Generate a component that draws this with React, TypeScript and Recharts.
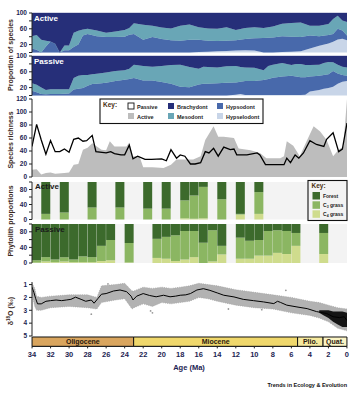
import React from "react";
import {
  AreaChart,
  Area,
  ComposedChart,
  Line,
  Scatter,
  BarChart,
  Bar,
  XAxis,
  YAxis,
  ReferenceArea,
  CartesianGrid,
} from "recharts";

// ---------------- Proportion of species: Active ----------------
const activeAges = [34, 33.5, 33, 32.5, 32, 31.5, 31, 30.5, 30, 29.5, 29, 28.5, 28, 27, 26, 25, 24, 23.5, 23, 22, 21, 20, 19, 18, 17, 16, 15, 14, 13, 12, 11, 10, 9, 8, 7, 6, 5, 4, 3, 2, 1.5, 1, 0.5, 0];
const activeHypselodont = [0, 0, 0, 0, 0, 0, 0, 0, 0, 0, 0, 0, 0, 0, 0, 0, 0, 0, 0, 0, 0, 0, 0, 0, 0, 1, 2, 3, 4, 5, 6, 5, 0, 0, 1, 2, 3, 10, 17, 23, 27, 33, 35, 31];
const activeHypsodont = [10, 7, 0, 15, 28, 22, 0, 6, 6, 14, 20, 43, 47, 41, 39, 39, 40, 45, 47, 32, 39, 34, 31, 30, 32, 31, 28, 26, 26, 26, 28, 31, 37, 38, 40, 38, 36, 33, 24, 21, 20, 27, 21, 12];
const activeMesodont = [31, 37, 32, 15, 0, 0, 0, 12, 12, 36, 35, 15, 13, 15, 11, 14, 17, 17, 27, 38, 29, 29, 30, 38, 39, 32, 31, 31, 34, 26, 28, 28, 25, 28, 32, 35, 37, 25, 27, 28, 38, 33, 25, 34];
const activeBrachydont = [59, 56, 68, 70, 72, 78, 100, 82, 82, 50, 45, 42, 40, 44, 50, 47, 43, 38, 26, 30, 32, 37, 39, 32, 29, 36, 39, 40, 36, 43, 38, 36, 38, 34, 27, 25, 24, 32, 32, 28, 15, 7, 19, 23];

// ---------------- Proportion of species: Passive ----------------
const passiveAges = [34, 33.5, 33, 32.5, 32, 31, 30, 29.5, 29, 28.5, 28, 27.5, 27, 26, 25, 24, 23.5, 23, 22, 21, 20, 19, 18, 17, 16, 15.5, 15, 14, 13, 12, 11.5, 11, 10, 9, 8.5, 8, 7, 6, 5.5, 5, 4.5, 4, 3, 2.5, 2, 1.5, 1, 0.5, 0];
const passiveHypselodont = [0, 0, 0, 0, 0, 0, 0, 0, 0, 0, 0, 0, 0, 0, 0, 0, 0, 0, 0, 0, 0, 0, 0, 0, 0, 0, 0, 0, 0, 2, 4, 1, 1, 1, 1, 1, 1, 1, 1, 1, 2, 10, 14, 17, 19, 22, 30, 35, 37];
const passiveHypsodont = [12, 8, 4, 3, 4, 4, 5, 15, 17, 19, 25, 29, 30, 32, 37, 40, 42, 44, 38, 38, 34, 30, 22, 21, 28, 30, 30, 31, 32, 31, 31, 36, 36, 38, 41, 44, 47, 49, 47, 45, 44, 38, 36, 35, 35, 40, 26, 17, 13];
const passiveMesodont = [19, 19, 16, 11, 12, 12, 11, 29, 33, 33, 27, 25, 25, 26, 25, 24, 26, 34, 37, 35, 41, 47, 56, 51, 40, 43, 42, 40, 42, 42, 37, 34, 33, 25, 33, 33, 34, 27, 32, 34, 31, 29, 28, 30, 31, 22, 22, 21, 21];
const passiveBrachydont = [69, 73, 80, 86, 84, 84, 84, 56, 50, 48, 48, 46, 45, 42, 38, 36, 32, 22, 25, 27, 25, 23, 22, 28, 32, 27, 28, 29, 26, 25, 28, 29, 30, 36, 25, 22, 18, 23, 20, 20, 23, 23, 22, 18, 15, 16, 22, 27, 29];

// ---------------- Species richness ----------------
const passiveRichAges = [34, 33.5, 33, 32.5, 32, 31.5, 31, 30.5, 30, 29.5, 29, 28.5, 28.1, 27.5, 27.1, 26, 25.5, 25.1, 24.4, 24, 23.5, 23.1, 22.6, 21.8, 21.1, 20, 19.5, 19, 18.4, 18, 17.5, 16.9, 16.4, 15.8, 15.3, 14.9, 14.4, 13.9, 13.3, 12.6, 12.2, 11.9, 10.8, 9.7, 9.4, 8.8, 8.3, 7.2, 6.8, 6.5, 6.1, 5.6, 5.2, 4.7, 4, 3.3, 2.5, 2.2, 1.5, 0.9, 0.5, 0];
const passiveRichness = [47, 81, 57, 35, 56, 39, 39, 43, 38, 58, 60, 55, 56, 64, 39, 37, 39, 36, 34, 34, 49, 28, 32, 27, 27, 28, 25, 42, 29, 34, 32, 20, 20, 22, 39, 37, 44, 32, 46, 42, 43, 34, 34, 37, 34, 19, 19, 19, 19, 29, 22, 34, 29, 37, 56, 50, 47, 58, 68, 39, 43, 83];
const activeRichAges = [34, 33.5, 33, 32.5, 32, 31.5, 30.5, 30, 29.5, 29, 28.5, 28, 27.5, 27, 26.5, 26, 25.6, 25.1, 24.5, 23.8, 23.5, 23.1, 22.4, 22, 21, 19.8, 19, 18.4, 18, 17.3, 16.6, 15.8, 15.3, 14.4, 13.9, 13.3, 12.2, 11.7, 10.4, 9.4, 8.7, 7.2, 6.8, 6.5, 5.8, 5.1, 4.3, 3.6, 2.9, 2.2, 1.5, 0.9, 0.4, 0];
const activeRichness = [11, 12, 4, 6, 7, 5, 6, 7, 19, 20, 42, 45, 52, 47, 42, 41, 55, 47, 47, 47, 53, 32, 32, 15, 15, 14, 19, 27, 27, 27, 27, 32, 57, 78, 62, 62, 60, 44, 41, 37, 29, 29, 32, 55, 48, 32, 57, 78, 70, 57, 32, 42, 47, 120];

// ---------------- Phytolith proportions (1 Ma bins) ----------------
const phytoBins = [33.5, 32.5, 31.5, 30.5, 29.5, 28.5, 27.5, 26.5, 25.5, 24.5, 23.5, 22.5, 21.5, 20.5, 19.5, 18.5, 17.5, 16.5, 15.5, 14.5, 13.5, 12.5, 11.5, 10.5, 9.5, 8.5, 7.5, 6.5, 5.5, 4.5, 3.5, 2.5, 1.5, 0.5];
const activeForest = [null, 85, null, 81, null, null, 68, null, null, 68, null, null, 71, null, 71, null, 49, 36, 13, null, 46, null, 85, null, 27, null, null, null, null, null, null, null, null, null];
const activeC3 = [null, 15, null, 19, null, null, 32, null, null, 32, null, null, 29, null, 29, null, 48, 62, 84, null, 54, null, 2, null, 58, null, null, null, null, null, null, null, null, null];
const activeC4 = [null, 0, null, 0, null, null, 0, null, null, 0, null, null, 0, null, 0, null, 3, 2, 3, null, 0, null, 13, null, 15, null, null, null, null, null, null, null, null, null];
const passiveForest = [93, 85, 91, 85, 91, 83, 85, 56, 41, null, 49, null, null, 38, 33, 29, 18, 18, 48, 16, 56, null, 35, 43, 41, 18, 16, 18, 23, null, null, 23, null, null];
const passiveC3 = [6, 11, 7, 11, 7, 15, 13, 39, 52, null, 50, null, null, 49, 56, 66, 73, 67, 52, 80, 22, null, 54, 46, 40, 63, 58, 59, 33, null, null, 54, null, null];
const passiveC4 = [1, 4, 2, 4, 2, 2, 2, 5, 7, null, 1, null, null, 13, 11, 5, 9, 15, 0, 4, 22, null, 11, 11, 19, 19, 26, 23, 44, null, null, 23, null, null];

// ---------------- Oxygen isotopes ----------------
const o18Ages = [34, 33.8, 33.6, 33.4, 33, 32.5, 32, 31.4, 30.8, 30.3, 29.8, 29.3, 28.7, 28.2, 27.6, 27.3, 26.9, 26.5, 26, 25.2, 24.5, 23.8, 23.3, 23.1, 22.7, 22, 21.3, 20.6, 19.8, 19.1, 18.5, 18, 17.4, 16.9, 16.2, 15.5, 14.8, 14, 13.3, 12.2, 11.2, 10.1, 9, 7.9, 7.5, 7.2, 6.5, 5.4, 4.3, 3.3, 2.2, 1.5, 0.8, 0.3, 0];
const o18Mean = [1.2, 1.6, 2.1, 2.5, 2.5, 2.3, 2.25, 2.2, 2.25, 2.2, 2.15, 1.98, 2.15, 2.3, 2.2, 2.45, 2.1, 1.75, 1.7, 1.5, 1.42, 1.55, 1.9, 2.2, 1.9, 1.7, 1.85, 1.95, 1.83, 1.95, 1.9, 1.83, 1.8, 1.7, 1.42, 1.32, 1.45, 1.65, 1.83, 1.96, 2.15, 2.25, 2.35, 2.48, 2.3, 2.38, 2.6, 2.74, 2.87, 3.1, 3.25, 3.5, 3.57, 3.5, 3.8];
const o18SpreadAges = [34, 33.7, 33.5, 33, 32, 30, 28, 27, 26.5, 25, 24, 23.2, 23, 22, 21, 20, 19, 18, 17, 16, 15, 14, 12, 10, 8, 6, 4, 3, 2, 1, 0];
const o18SpreadLow = [0.9, 1.3, 1.9, 2.0, 1.9, 1.8, 1.8, 2.0, 1.1, 1.0, 0.9, 1.5, 1.5, 1.2, 1.3, 1.2, 1.3, 1.2, 1.1, 0.9, 1.0, 1.1, 1.4, 1.6, 1.8, 2.0, 2.3, 2.4, 2.6, 2.8, 2.9];
const o18SpreadHigh = [1.8, 2.7, 3.0, 3.0, 2.8, 2.7, 2.8, 2.9, 2.4, 2.2, 2.1, 2.9, 2.8, 2.5, 2.7, 2.4, 2.5, 2.4, 2.3, 2.0, 2.1, 2.3, 2.6, 2.8, 2.9, 3.2, 3.4, 3.6, 3.9, 4.4, 4.6];
const o18GlacialAges = [3, 2.5, 2, 1.5, 1, 0.5, 0];
const o18GlacialLow = [3.0, 3.0, 3.0, 3.1, 3.1, 3.1, 3.2];
const o18GlacialHigh = [3.2, 3.4, 3.6, 3.9, 4.1, 4.3, 4.3];
const o18OutlierAges = [27.6, 21.2, 21.0, 12.8, 9.2, 6.6, 25.8];
const o18OutlierValues = [3.3, 3.05, 3.2, 2.9, 2.95, 1.45, 0.95];

// ---------------- Epochs & ticks ----------------
const epochNames = ["Oligocene", "Miocene", "Plio.", "Quat."];
const epochStart = [34, 23.03, 5.33, 2.58];
const epochEnd = [23.03, 5.33, 2.58, 0];
const ageTicks = [34, 32, 30, 28, 26, 24, 22, 20, 18, 16, 14, 12, 10, 8, 6, 4, 2, 0];
const propTicks = [0, 20, 40, 60, 80, 100];
const propLabels = [20, 60, 100];
const richTicks = [0, 20, 40, 60, 80, 100, 120];
const phytoLabels = [0, 40, 80];
const o18Ticks = [1, 2, 3, 4, 5];

// ---------------- Styles ----------------
const FONT = "'Liberation Sans', Arial, sans-serif";
const TICK_COLOR = "#1d2452";
const TITLE_COLOR = "#3b2a1e";
const COL = {
  brachydont: "#262f79",
  mesodont: "#69a6b6",
  hypsodont: "#4869ab",
  hypselodont: "#c8d5e8",
  active: "#bdbdbd",
  forest: "#3c6a2c",
  c3: "#8bb662",
  c4: "#cfdc8d",
  bg: "#f3f3f3",
};
const epochColors = ["#d9a55e", "#f0d86c", "#f6e99d", "#fbf4c4"];

const PAD = 6;
const W = 360;
const margin = { top: PAD, right: 13, bottom: PAD, left: 0 };
const yTick = { fontSize: 6.5, fontWeight: 700, fill: TICK_COLOR, fontFamily: FONT };
const axisStroke = { stroke: "#222" };

const wrap = (top: number, h: number): React.CSSProperties => ({
  position: "absolute",
  left: 0,
  top: top - PAD,
  width: W,
  height: h + 2 * PAD,
});

function ProportionPanel({ top, h, ages, hypsel, hyps, meso, brachy }: any) {
  const rows = ages.map((age: number, i: number) => ({
    age,
    hypselodont: hypsel[i],
    hypsodont: hyps[i],
    mesodont: meso[i],
    brachydont: brachy[i],
  }));
  const keys = ["hypselodont", "hypsodont", "mesodont", "brachydont"] as const;
  return (
    <div style={wrap(top, h)}>
      <AreaChart width={W} height={h + 2 * PAD} data={rows} margin={margin}>
        <XAxis type="number" dataKey="age" domain={[0, 34]} reversed hide allowDataOverflow />
        <YAxis
          width={32}
          domain={[0, 100]}
          ticks={propTicks}
          interval={0}
          tickFormatter={(v: number) => (propLabels.includes(v) ? String(v) : "")}
          tick={yTick}
          tickSize={3}
          axisLine={axisStroke}
          tickLine={axisStroke}
        />
        {keys.map((k) => (
          <Area
            key={k}
            type="linear"
            dataKey={k}
            stackId="s"
            stroke={COL[k]}
            strokeWidth={0.4}
            fill={COL[k]}
            fillOpacity={1}
            isAnimationActive={false}
          />
        ))}
      </AreaChart>
    </div>
  );
}

function PhytoPanel({ top, h, forest, c3, c4 }: any) {
  const rows = phytoBins.map((bin, i) => ({ bin, forest: forest[i], c3: c3[i], c4: c4[i] }));
  return (
    <div style={wrap(top, h)}>
      <BarChart width={W} height={h + 2 * PAD} data={rows} margin={margin} barCategoryGap={0} barGap={0}>
        <CartesianGrid fill={COL.bg} stroke="none" horizontal={false} vertical={false} />
        <XAxis dataKey="bin" hide />
        <YAxis
          width={32}
          domain={[0, 100]}
          ticks={propTicks}
          interval={0}
          tickFormatter={(v: number) => (phytoLabels.includes(v) ? String(v) : "")}
          tick={yTick}
          tickSize={3}
          axisLine={axisStroke}
          tickLine={axisStroke}
        />
        <Bar dataKey="c4" stackId="p" fill={COL.c4} isAnimationActive={false} />
        <Bar dataKey="c3" stackId="p" fill={COL.c3} isAnimationActive={false} />
        <Bar dataKey="forest" stackId="p" fill={COL.forest} isAnimationActive={false} />
      </BarChart>
    </div>
  );
}

export default function App() {
  const activeRichRows = activeRichAges.map((age, i) => ({ age, richness: activeRichness[i] }));
  const passiveRichRows = passiveRichAges.map((age, i) => ({ age, richness: passiveRichness[i] }));
  const o18MeanRows = o18Ages.map((age, i) => ({ age, d18o: o18Mean[i] }));
  const o18SpreadRows = o18SpreadAges.map((age, i) => ({ age, d18o: [o18SpreadLow[i], o18SpreadHigh[i]] }));
  const o18GlacialRows = o18GlacialAges.map((age, i) => ({ age, d18o: [o18GlacialLow[i], o18GlacialHigh[i]] }));
  const o18OutlierRows = o18OutlierAges.map((age, i) => ({ age, d18o: o18OutlierValues[i] }));
  const epochRows = epochStart.map((age) => ({ age }));

  const RICH_TOP = 99;
  const RICH_H = 78;
  const O18_TOP = 281.7;
  const O18_H = 54;
  const EPOCH_TOP = 337.3;
  const EPOCH_H = 9.4;

  const legendText = { fontSize: 5.5, fontWeight: 700, fill: "#222", fontFamily: FONT } as const;

  return (
    <div style={{ position: "absolute", left: 0, top: 0, width: W, height: 393, background: "#fff", overflow: "hidden" }}>
      <ProportionPanel top={13} h={39.5} ages={activeAges} hypsel={activeHypselodont} hyps={activeHypsodont} meso={activeMesodont} brachy={activeBrachydont} />
      <ProportionPanel top={55.5} h={39.5} ages={passiveAges} hypsel={passiveHypselodont} hyps={passiveHypsodont} meso={passiveMesodont} brachy={passiveBrachydont} />

      <div style={wrap(RICH_TOP, RICH_H)}>
        <ComposedChart width={W} height={RICH_H + 2 * PAD} margin={margin}>
          <XAxis type="number" dataKey="age" domain={[0, 34]} reversed height={0} tick={false} tickLine={false} axisLine={{ stroke: "#bbb" }} allowDataOverflow />
          <YAxis width={32} domain={[0, 120]} ticks={richTicks} interval={0} tick={yTick} tickSize={3} axisLine={axisStroke} tickLine={axisStroke} allowDataOverflow />
          <Area data={activeRichRows} type="linear" dataKey="richness" fill={COL.active} fillOpacity={1} stroke="none" isAnimationActive={false} />
          <Line data={passiveRichRows} type="linear" dataKey="richness" stroke="#000" strokeWidth={1.3} dot={false} isAnimationActive={false} />
        </ComposedChart>
      </div>

      <PhytoPanel top={182} h={37.5} forest={activeForest} c3={activeC3} c4={activeC4} />
      <PhytoPanel top={224} h={39} forest={passiveForest} c3={passiveC3} c4={passiveC4} />

      <div style={wrap(O18_TOP, O18_H)}>
        <ComposedChart width={W} height={O18_H + 2 * PAD} margin={margin}>
          <XAxis type="number" dataKey="age" domain={[0, 34]} reversed hide allowDataOverflow />
          <YAxis width={32} reversed domain={[0.8, 5]} ticks={o18Ticks} interval={0} tick={yTick} tickSize={3} axisLine={axisStroke} tickLine={axisStroke} allowDataOverflow />
          <Area data={o18SpreadRows} type="linear" dataKey="d18o" fill="#b2b2b2" fillOpacity={1} stroke="#a0a0a0" strokeWidth={0.7} strokeDasharray="1 1.2" isAnimationActive={false} />
          <Area data={o18GlacialRows} type="linear" dataKey="d18o" fill="#141414" fillOpacity={1} stroke="none" isAnimationActive={false} />
          <Scatter data={o18OutlierRows} dataKey="d18o" isAnimationActive={false} shape={(p: any) => <circle cx={p.cx} cy={p.cy} r={0.9} fill="#999" />} />
          <Line data={o18MeanRows} type="linear" dataKey="d18o" stroke="#000" strokeWidth={1} dot={false} isAnimationActive={false} />
        </ComposedChart>
      </div>

      <div style={{ position: "absolute", left: 0, top: EPOCH_TOP - 2, width: W, height: EPOCH_H + 2 + 18 }}>
        <ComposedChart width={W} height={EPOCH_H + 2 + 18} data={epochRows} margin={{ top: 2, right: 13, bottom: 2, left: 32 }}>
          <XAxis
            type="number"
            dataKey="age"
            domain={[0, 34]}
            reversed
            ticks={ageTicks}
            interval={0}
            tick={{ fontSize: 7.5, fontWeight: 700, fill: TICK_COLOR, fontFamily: FONT }}
            tickSize={2}
            tickMargin={3}
            height={16}
            axisLine={axisStroke}
            tickLine={axisStroke}
            allowDataOverflow
          />
          <YAxis hide domain={[0, 1]} allowDataOverflow />
          {epochNames.map((name, i) => (
            <ReferenceArea
              key={name}
              x1={epochStart[i]}
              x2={epochEnd[i]}
              y1={0}
              y2={1}
              fill={epochColors[i]}
              fillOpacity={1}
              stroke="#111"
              strokeWidth={1}
              ifOverflow="visible"
              label={{ value: name, position: "center", fontSize: 7, fontWeight: 700, fill: "#2a1a10", fontFamily: FONT }}
            />
          ))}
        </ComposedChart>
      </div>

      <svg width={W} height={393} style={{ position: "absolute", left: 0, top: 0, pointerEvents: "none" }} fontFamily={FONT}>
        {/* axis titles */}
        <text transform="translate(12.5,55) rotate(-90)" textAnchor="middle" fontSize={7} fontWeight={700} fill={TITLE_COLOR}>Proportion of species</text>
        <text transform="translate(12.5,140) rotate(-90)" textAnchor="middle" fontSize={7} fontWeight={700} fill={TITLE_COLOR}>Species richness</text>
        <text transform="translate(12.5,221) rotate(-90)" textAnchor="middle" fontSize={7} fontWeight={700} fill={TITLE_COLOR}>Phytolith proportions</text>
        <text transform="translate(12.5,311) rotate(-90)" textAnchor="middle" fontSize={7} fontWeight={700} fill={TITLE_COLOR}>
          δ<tspan dy={-2.5} fontSize={4.5}>18</tspan>
          <tspan dy={2.5}>O (‰)</tspan>
        </text>

        {/* panel headers */}
        <text x={34} y={21} fontSize={8} fontWeight={700} fill="#fff">Active</text>
        <text x={34} y={63.5} fontSize={8} fontWeight={700} fill="#fff">Passive</text>
        <text x={35} y={189} fontSize={8} fontWeight={700} fill="#1a1a1a">Active</text>
        <text x={35} y={232} fontSize={8} fontWeight={700} fill="#1a1a1a">Passive</text>

        {/* richness / dentition key */}
        <rect x={100} y={99} width={163} height={24.5} fill="#fff" stroke="#111" strokeWidth={1.1} />
        <text x={103} y={107} fontSize={6.5} fontWeight={700} fill="#4a2f10">Key:</text>
        <rect x={128} y={103} width={6} height={6} fill="#fff" stroke="#111" strokeWidth={0.9} />
        <text x={137} y={108.5} {...legendText}>Passive</text>
        <rect x={128} y={113} width={6} height={6} fill={COL.active} />
        <text x={137} y={118.5} {...legendText}>Active</text>
        <rect x={168} y={103} width={6} height={6} fill={COL.brachydont} />
        <text x={177} y={108.5} {...legendText}>Brachydont</text>
        <rect x={168} y={113} width={6} height={6} fill={COL.mesodont} />
        <text x={177} y={118.5} {...legendText}>Mesodont</text>
        <rect x={217} y={103} width={6} height={6} fill={COL.hypsodont} />
        <text x={226} y={108.5} {...legendText}>Hypsodont</text>
        <rect x={217} y={113} width={6} height={6} fill={COL.hypselodont} />
        <text x={226} y={118.5} {...legendText}>Hypselodont</text>

        {/* phytolith key */}
        <rect x={308} y={180.5} width={39} height={40} fill={COL.bg} stroke="#111" strokeWidth={1.1} />
        <text x={311.5} y={188} fontSize={6.5} fontWeight={700} fill="#4a2f10">Key:</text>
        <rect x={312.5} y={192} width={7.5} height={7.5} fill={COL.forest} />
        <text x={323} y={197.5} fontSize={5} fontWeight={700} fill="#222">Forest</text>
        <rect x={312.5} y={201.3} width={7.5} height={7.5} fill={COL.c3} />
        <text x={323} y={206.5} fontSize={5} fontWeight={700} fill="#222">
          C<tspan dy={1.2} fontSize={3.5}>3</tspan>
          <tspan dy={-1.2}> grass</tspan>
        </text>
        <rect x={312.5} y={210.3} width={7.5} height={7.5} fill={COL.c4} />
        <text x={323} y={215.5} fontSize={5} fontWeight={700} fill="#222">
          C<tspan dy={1.2} fontSize={3.5}>4</tspan>
          <tspan dy={-1.2}> grass</tspan>
        </text>

        {/* x-axis title and credit */}
        <text x={189} y={370} textAnchor="middle" fontSize={7.5} fontWeight={700} fill={TICK_COLOR}>Age (Ma)</text>
        <text x={347} y={387} textAnchor="end" fontSize={5.5} fontWeight={700} fill="#111">Trends in Ecology &amp; Evolution</text>
      </svg>
    </div>
  );
}
